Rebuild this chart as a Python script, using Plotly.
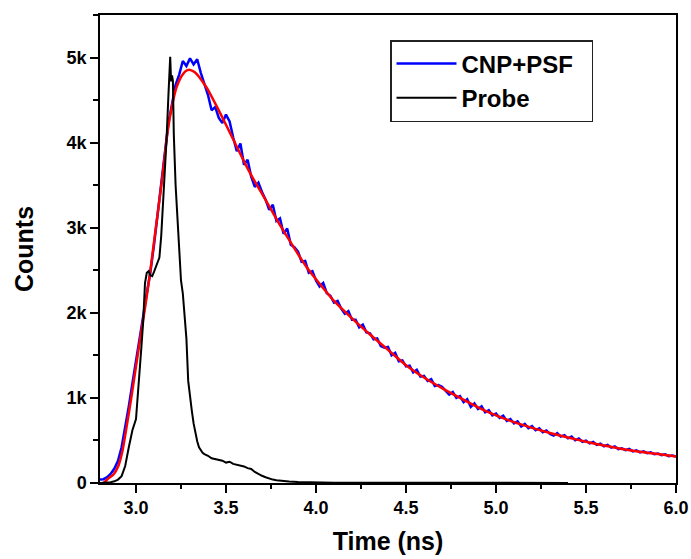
import numpy as np
import plotly.graph_objects as go

# ---------------- data ----------------
# sample time channels for the measured decay (ns)
time_ns = np.round(np.linspace(2.80, 6.00, 161), 2)

cnp_psf_counts = [
    40, 45, 70, 110, 170, 260, 420, 640, 900, 1170,
    1420, 1700, 1960, 2230, 2480, 2800, 3150, 3540, 3880, 4230,
    4450, 4680, 4800, 4960, 4900, 4990, 4920, 4980, 4820, 4700,
    4560, 4380, 4420, 4290, 4230, 4330, 4250, 4060, 3900, 3990, 3740,
    3800, 3600, 3480, 3530, 3420, 3330, 3210, 3270, 3080, 3110,
    2930, 2990, 2800, 2770, 2720, 2600, 2610, 2470, 2490, 2380,
    2310, 2350, 2230, 2200, 2120, 2140, 2050, 1990, 2020, 1920,
    1920, 1830, 1860, 1770, 1760, 1690, 1700, 1610, 1590, 1600,
    1500, 1530, 1430, 1440, 1370, 1380, 1300, 1330, 1250, 1260,
    1200, 1220, 1140, 1150, 1130, 1090, 1040, 1070, 1000, 1020,
    950, 985, 895, 935, 870, 900, 830, 855, 795, 815,
    765, 790, 730, 752, 700, 725, 665, 695, 645, 668,
    620, 642, 598, 618, 575, 556, 585, 545, 562, 525,
    545, 502, 522, 485, 498, 465, 482, 447, 462, 432,
    448, 415, 430, 398, 408, 385, 400, 372, 385, 360,
    372, 350, 360, 338, 347, 328, 337, 316, 322, 310,
]

fit_time_ns = [
    2.82, 2.85, 2.875, 2.90, 2.925, 2.95, 2.975, 3.00, 3.025, 3.05,
    3.075, 3.10, 3.125, 3.15, 3.175, 3.20, 3.225, 3.25, 3.275, 3.30,
    3.325, 3.35, 3.375, 3.40, 3.45, 3.50, 3.55, 3.60, 3.65, 3.70,
    3.75, 3.80, 3.85, 3.90, 3.95, 4.00, 4.10, 4.20, 4.30, 4.40,
    4.50, 4.60, 4.70, 4.80, 4.90, 5.00, 5.10, 5.20, 5.30, 5.40,
    5.50, 5.60, 5.70, 5.80, 5.90, 6.00,
]
fit_counts = [
    0, 60, 100, 190, 380, 690, 1020, 1370, 1720, 2060,
    2420, 2830, 3240, 3660, 4120, 4430, 4650, 4770, 4840, 4855,
    4830, 4775, 4700, 4620, 4420, 4210, 3995, 3780, 3580, 3400,
    3215, 3030, 2860, 2690, 2530, 2395, 2140, 1935, 1745, 1565,
    1385, 1240, 1115, 1000, 890, 795, 715, 648, 588, 535,
    485, 440, 400, 368, 340, 310,
]

probe_time_ns = [
    2.80, 2.84, 2.86, 2.88, 2.90, 2.92, 2.94, 2.96, 2.98, 3.00,
    3.01, 3.02, 3.03, 3.04, 3.05, 3.06, 3.07, 3.08, 3.09, 3.10,
    3.11, 3.12, 3.13, 3.14, 3.15, 3.16, 3.17, 3.18, 3.19, 3.195,
    3.20, 3.205, 3.21, 3.22, 3.23, 3.24, 3.25, 3.26, 3.27, 3.28,
    3.29, 3.30, 3.31, 3.32, 3.33, 3.34, 3.35, 3.36, 3.37, 3.38,
    3.39, 3.40, 3.42, 3.44, 3.46, 3.48, 3.50, 3.52, 3.54, 3.56,
    3.58, 3.60, 3.62, 3.64, 3.66, 3.68, 3.70, 3.72, 3.74, 3.76,
    3.78, 3.80, 3.85, 3.90, 3.95, 4.00, 4.10, 4.20, 4.40, 4.60,
    4.80, 5.00, 5.20, 5.40,
]
probe_counts = [
    0, 5, 10, 20, 40, 80, 200, 420, 620, 750,
    1000, 1250, 1600, 1900, 2350, 2470, 2490, 2440, 2430, 2480,
    2540, 2580, 2650, 2900, 3250, 3650, 4050, 4550, 5010, 4720,
    4790, 4730, 4100, 3500, 3100, 2650, 2380, 2230, 1990, 1700,
    1200, 1000, 850, 700, 570, 490, 420, 380, 355, 340,
    330, 320, 290, 280, 270, 262, 240, 250, 225, 215,
    205, 195, 175, 165, 130, 105, 85, 68, 50, 40,
    33, 27, 18, 12, 8, 6, 4, 4, 3, 3,
    3, 2, 2, 1,
]

y_tick_vals = [0, 1000, 2000, 3000, 4000, 5000]
y_tick_text = ["0", "1k", "2k", "3k", "4k", "5k"]
x_tick_vals = [3.0, 3.5, 4.0, 4.5, 5.0, 5.5, 6.0]
x_tick_text = ["3.0", "3.5", "4.0", "4.5", "5.0", "5.5", "6.0"]

# ---------------- figure ----------------
FONT = "Liberation Sans, Arial, sans-serif"
NB = "\u00a0"

fig = go.Figure()
fig.add_trace(go.Scatter(x=time_ns, y=cnp_psf_counts, mode="lines", name="CNP+PSF" + NB * 2,
                         line=dict(color="#0000FF", width=2.5)))
fig.add_trace(go.Scatter(x=fit_time_ns, y=fit_counts, mode="lines", name="Fit",
                         showlegend=False,
                         line=dict(color="#FF0000", width=2.5, shape="spline", smoothing=0.6)))
fig.add_trace(go.Scatter(x=probe_time_ns, y=probe_counts, mode="lines", name="Probe",
                         line=dict(color="#000000", width=2)))

fig.update_layout(
    width=691, height=559,
    margin=dict(l=100, r=15, t=15, b=76),
    paper_bgcolor="white", plot_bgcolor="white",
    font=dict(family=FONT, color="black"),
    showlegend=True,
    legend=dict(
        x=(390 - 100) / 576, y=(483 - 40) / 468, xanchor="left", yanchor="top",
        bgcolor="white", bordercolor="#222222", borderwidth=1.5,
        font=dict(family=FONT, size=24, weight="bold", color="black"),
        itemwidth=60, tracegroupgap=0,
    ),
)

fig.update_xaxes(
    range=[2.8, 6.0], showline=True, linecolor="black", linewidth=1.5, mirror=True,
    ticks="outside", ticklen=8, tickwidth=1.5, tickcolor="black",
    tickvals=x_tick_vals, ticktext=x_tick_text,
    tickfont=dict(family=FONT, size=18, weight="bold"),
    minor=dict(dtick=0.25, tick0=2.75, ticks="outside", ticklen=4, tickwidth=1.5,
               tickcolor="black", showgrid=False),
    showgrid=False, zeroline=False, automargin=False,
    title=dict(text="Time (ns)", font=dict(family=FONT, size=25, weight="bold"), standoff=15),
)
fig.update_yaxes(
    range=[0, 5500], showline=True, linecolor="black", linewidth=1.5, mirror=True,
    ticks="outside", ticklen=8, tickwidth=1.5, tickcolor="black",
    tickvals=y_tick_vals, ticktext=y_tick_text,
    tickfont=dict(family=FONT, size=18, weight="bold"),
    minor=dict(dtick=500, tick0=0, ticks="outside", ticklen=5, tickwidth=1.5,
               tickcolor="black", showgrid=False),
    showgrid=False, zeroline=False, automargin=False,
    title=dict(text="Counts", font=dict(family=FONT, size=25, weight="bold"), standoff=26),
)

fig.write_html("out.html", config={"displayModeBar": False},
               post_script="document.body.style.margin='0px';")
